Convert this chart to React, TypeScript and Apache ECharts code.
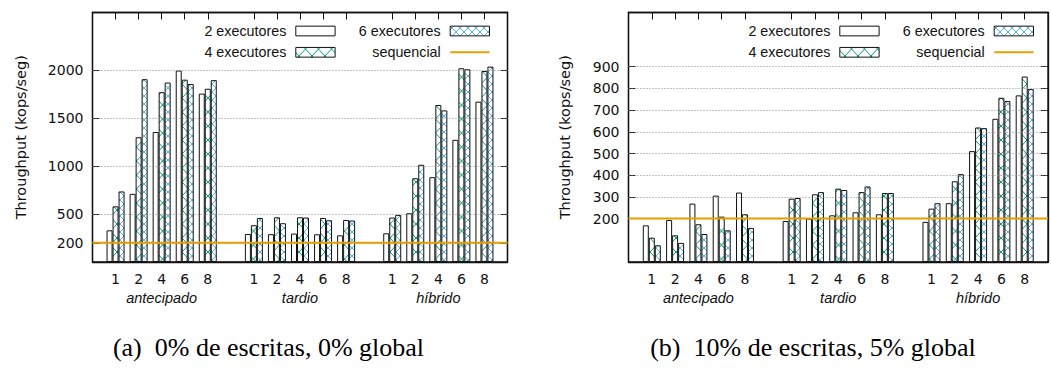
import React, { useEffect, useRef } from 'react';
import * as echarts from 'echarts';

// ---------- data ----------
const groups = ['antecipado', 'tardio', 'híbrido'];
const threads = ['1', '2', '4', '6', '8'];
const seriesNames = ['2 executores', '4 executores', '6 executores'];
const sequencialName = 'sequencial';
const sequencialValue = 200;

// values ordered: antecipado(1,2,4,6,8), tardio(1,2,4,6,8), híbrido(1,2,4,6,8)
// (a) 0% de escritas, 0% global
const a2 = [330, 710, 1355, 1995, 1755, 292, 290, 296, 289, 278, 299, 508, 884, 1273, 1671];
const a4 = [580, 1300, 1770, 1900, 1805, 383, 466, 466, 459, 438, 463, 873, 1636, 2019, 1991];
const a6 = [735, 1905, 1870, 1855, 1895, 459, 404, 463, 435, 432, 491, 1013, 1580, 2008, 2036];
// (b) 10% de escritas, 5% global
const b2 = [169, 194, 269, 306, 320, 189, 200, 215, 229, 220, 185, 271, 511, 660, 768];
const b4 = [112, 123, 174, 209, 220, 292, 312, 338, 322, 318, 246, 372, 620, 757, 855];
const b6 = [77, 88, 129, 146, 157, 295, 322, 332, 348, 318, 271, 405, 617, 742, 797];

const aTicks = [200, 500, 1000, 1500, 2000];
const bTicks = [200, 300, 400, 500, 600, 700, 800, 900];
const aMax = 2600;
const bMax = 1150;
const yTitle = 'Throughput (kops/seg)';
const captionA = '(a)  0% de escritas, 0% global';
const captionB = '(b)  10% de escritas, 5% global';

// ---------- helpers ----------
// slots: gap, 5 thread counts, gap, 5, gap, 5, gap
const slotLabels: string[] = [''];
const groupSlotLabels: string[] = [''];
groups.forEach((g) => {
  threads.forEach((t, i) => {
    slotLabels.push(t);
    groupSlotLabels.push(i === 2 ? g : '');
  });
  slotLabels.push('');
  groupSlotLabels.push('');
});

function expand(vals: number[]): (number | string)[] {
  const out: (number | string)[] = ['-'];
  groups.forEach((_, gi) => {
    for (let i = 0; i < threads.length; i++) out.push(vals[gi * threads.length + i]);
    out.push('-');
  });
  return out;
}

function makeHatch(w: number, h: number, color: string) {
  const c = document.createElement('canvas');
  c.width = w;
  c.height = h;
  const ctx = c.getContext('2d')!;
  ctx.fillStyle = '#ffffff';
  ctx.fillRect(0, 0, w, h);
  ctx.strokeStyle = color;
  ctx.lineWidth = 1;
  ctx.beginPath();
  for (const dx of [-w, 0, w]) {
    ctx.moveTo(dx, 0);
    ctx.lineTo(dx + w, h);
    ctx.moveTo(dx + w, 0);
    ctx.lineTo(dx, h);
  }
  ctx.stroke();
  return c;
}

const INK = '#111111';
const AXIS_FONT = 'DejaVu Sans';
const LEG_FONT = 'Liberation Sans';

export default function App() {
  const ref = useRef<HTMLDivElement>(null);

  useEffect(() => {
    const chart = echarts.init(ref.current!, undefined, { renderer: 'svg' });
    const greenImg = makeHatch(13, 14, '#009e73');
    const blueImg = makeHatch(8, 8, '#56b4e9');
    const fills: any[] = [
      '#ffffff',
      { image: greenImg, repeat: 'repeat', imageWidth: 13, imageHeight: 14 },
      { image: blueImg, repeat: 'repeat', imageWidth: 8, imageHeight: 8 },
    ];

    const panels = [
      {
        vals: [a2, a4, a6], ticks: aTicks, max: aMax,
        grid: { left: 92.5, top: 12.5, width: 415, height: 249.5 },
        nameGap: 64, caption: captionA, captionX: 268.5,
      },
      {
        vals: [b2, b4, b6], ticks: bTicks, max: bMax,
        grid: { left: 628.5, top: 12.5, width: 423, height: 249.5 },
        nameGap: 56, caption: captionB, captionX: 813,
      },
    ];

    const grids: any[] = [];
    const xAxes: any[] = [];
    const yAxes: any[] = [];
    const series: any[] = [];
    const graphics: any[] = [];

    const mkLine = () => ({ show: true, onZero: false, lineStyle: { color: INK, width: 1.3 } });
    const tickStyle = { color: INK, width: 1 };

    panels.forEach((p, pi) => {
      grids.push({
        ...p.grid, containLabel: false, show: true,
        borderColor: INK, borderWidth: 1.3, backgroundColor: 'transparent',
      });
      const tickInterval = (_i: number, v: string) => v !== '';
      // bottom thread labels
      xAxes.push({
        type: 'category', gridIndex: pi, position: 'bottom', data: slotLabels,
        boundaryGap: false, axisLine: mkLine(),
        axisTick: { show: true, inside: true, length: 7, interval: tickInterval, lineStyle: tickStyle },
        axisLabel: { show: true, interval: 0, margin: 10, fontSize: 14, fontFamily: AXIS_FONT, color: INK },
        splitLine: { show: false },
      });
      // top mirror
      xAxes.push({
        type: 'category', gridIndex: pi, position: 'top', data: slotLabels,
        boundaryGap: false, axisLine: mkLine(),
        axisTick: { show: true, inside: true, length: 7, interval: tickInterval, lineStyle: tickStyle },
        axisLabel: { show: false }, splitLine: { show: false },
      });
      // group names
      xAxes.push({
        type: 'category', gridIndex: pi, position: 'bottom', data: groupSlotLabels,
        boundaryGap: false, axisLine: { show: false, onZero: false }, axisTick: { show: false },
        axisLabel: {
          show: true, interval: 0, margin: 28, fontSize: 14.5, fontFamily: LEG_FONT,
          fontStyle: 'italic', color: INK,
        },
        splitLine: { show: false },
      });
      yAxes.push({
        type: 'value', gridIndex: pi, position: 'left', min: 0, max: p.max,
        name: yTitle, nameLocation: 'middle', nameGap: p.nameGap,
        nameTextStyle: { fontSize: 14.5, fontFamily: AXIS_FONT, color: INK },
        axisLine: mkLine(),
        axisTick: { show: true, inside: true, length: 7, customValues: p.ticks, lineStyle: tickStyle },
        axisLabel: {
          show: true, customValues: p.ticks, margin: 9, fontSize: 14, fontFamily: AXIS_FONT, color: INK,
          formatter: (v: number) => String(v),
        },
        splitLine: { show: false },
      });
      yAxes.push({
        type: 'value', gridIndex: pi, position: 'right', min: 0, max: p.max,
        axisLine: mkLine(),
        axisTick: { show: true, inside: true, length: 7, customValues: p.ticks, lineStyle: tickStyle },
        axisLabel: { show: false }, splitLine: { show: false },
      });

      const xi = pi * 3;
      const yi = pi * 2;
      p.vals.forEach((vals, k) => {
        series.push({
          type: 'bar', name: seriesNames[k], xAxisIndex: xi, yAxisIndex: yi,
          data: expand(vals), barWidth: 6, barGap: '0%', z: 3,
          itemStyle: { color: fills[k], borderColor: INK, borderWidth: 1 },
        });
      });
      // sequencial line on the mirror axes (same scales); it also carries the dotted grid lines
      series.push({
        type: 'line', name: sequencialName, xAxisIndex: xi + 1, yAxisIndex: yi + 1,
        data: slotLabels.map(() => sequencialValue), showSymbol: false, symbol: 'none', z: 5,
        lineStyle: { color: '#e69f00', width: 2 },
        markLine: {
          silent: true, symbol: ['none', 'none'], label: { show: false },
          lineStyle: { color: '#888888', type: [1, 2], width: 1 },
          data: p.ticks.map((v) => ({ yAxis: v })),
        },
      });

      // legend (drawn)
      const R = p.grid.left + p.grid.width;
      const col1 = R - 211.7;
      const col2 = R - 57.3;
      const rows = [31, 52.3];
      const sw = 39.3;
      const sh = 9.7;
      const items = [
        { name: seriesNames[0], x: col1, y: rows[0], fill: fills[0] },
        { name: seriesNames[1], x: col1, y: rows[1], fill: fills[1] },
        { name: seriesNames[2], x: col2, y: rows[0], fill: fills[2] },
      ];
      items.forEach((it) => {
        graphics.push({
          type: 'text', z: 10,
          style: {
            text: it.name, x: it.x - 9.5, y: it.y, textAlign: 'right', textVerticalAlign: 'middle',
            fontSize: 14.3, fontFamily: LEG_FONT, fill: INK,
          },
        });
        graphics.push({
          type: 'rect', z: 10,
          shape: { x: it.x, y: it.y - sh / 2, width: sw, height: sh },
          style: { fill: it.fill, stroke: INK, lineWidth: 1 },
        });
      });
      graphics.push({
        type: 'text', z: 10,
        style: {
          text: sequencialName, x: col2 - 9.5, y: rows[1], textAlign: 'right', textVerticalAlign: 'middle',
          fontSize: 14.3, fontFamily: LEG_FONT, fill: INK,
        },
      });
      graphics.push({
        type: 'line', z: 10,
        shape: { x1: col2, y1: rows[1], x2: col2 + sw, y2: rows[1] },
        style: { stroke: '#e69f00', lineWidth: 2 },
      });
      // caption
      graphics.push({
        type: 'text', z: 10,
        style: {
          text: p.caption, x: p.captionX, y: 347, textAlign: 'center', textVerticalAlign: 'middle',
          fontSize: 26, fontFamily: 'Liberation Serif', fill: '#000',
        },
      });
    });

    chart.setOption({
      animation: false,
      backgroundColor: '#ffffff',
      textStyle: { fontFamily: AXIS_FONT },
      grid: grids,
      xAxis: xAxes,
      yAxis: yAxes,
      series,
      graphic: graphics,
    });

    return () => chart.dispose();
  }, []);

  return (
    <div
      ref={ref}
      style={{ position: 'absolute', left: 0, top: 0, width: 1051, height: 373, background: '#fff' }}
    />
  );
}
